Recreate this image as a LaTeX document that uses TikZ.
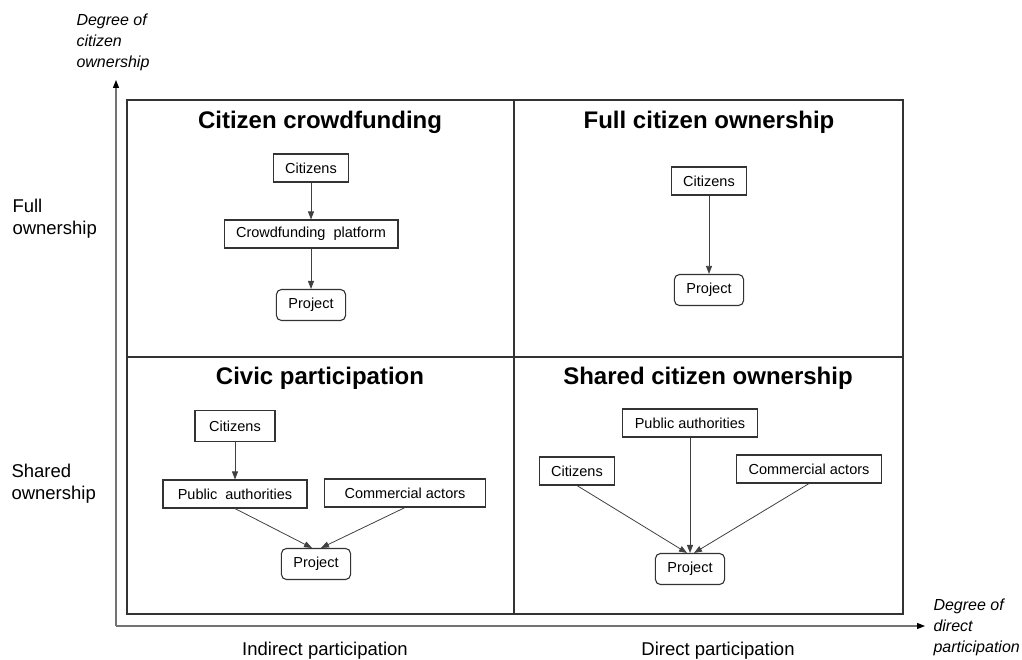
\documentclass[tikz,border=0pt]{standalone}
\usepackage{fontspec}
\setmainfont{Liberation Sans}
\usetikzlibrary{arrows.meta,positioning}

\begin{document}
\begin{tikzpicture}[x=1pt, y=-1pt,
    box/.style={draw=black!80, line width=1.1pt, fill=white, inner xsep=12pt,
        minimum height=28pt, font=\fontsize{14.5}{16}\selectfont},
    proj/.style={box, rounded corners=5pt, minimum height=31pt},
    title/.style={font=\fontsize{24}{28}\selectfont\bfseries},
    link/.style={draw=black!75, line width=0.8pt, -{Triangle[length=8pt,width=6pt]}},
    axis/.style={draw=black!55, line width=1.2pt, -{Triangle[length=8pt,width=6pt,fill=black,color=black]}},
    axlabel/.style={align=left, font=\fontsize{18.5}{22}\selectfont},
    axtitle/.style={align=left, font=\fontsize{16}{21}\selectfont\itshape}]
    \useasboundingbox (0,0) rectangle (1022,660);

    % axes
    \coordinate (O) at (116,626);
    \coordinate (ytop) at (116,80);
    \coordinate (xend) at (925,626);
    \draw[axis] (O) -- (ytop);
    \draw[axis] (O) -- (xend);
    \node[axtitle, anchor=west] (ytitle) at (73,42) {Degree of\\citizen\\ownership};
    \node[axtitle, anchor=west] (xtitle) at (930,627) {Degree of\\direct\\participation};
    \node[axlabel, anchor=west] (full) at (9,219) {Full\\ownership};
    \node[axlabel, anchor=west] (shared) at (8,484) {Shared\\ownership};
    \node[axlabel] (indirect) at (325,651) {Indirect participation};
    \node[axlabel] (direct) at (718,651) {Direct participation};

    % quadrants
    \draw[draw=black!80, line width=1.5pt] (127,100) rectangle (903,614);
    \draw[draw=black!80, line width=1.5pt] (514,100) -- (514,614);
    \draw[draw=black!80, line width=1.5pt] (127,357) -- (903,357);

    % citizen crowdfunding
    \node[title] (t1) at (320,122) {Citizen crowdfunding};
    \node[box] (c1) at (311,168) {Citizens};
    \node[box] (cp1) at (311,234) {Crowdfunding\ \ platform};
    \node[proj] (p1) at (311,305) {Project};
    \draw[link] (c1) -- (cp1);
    \draw[link] (cp1) -- (p1);

    % full citizen ownership
    \node[title] (t2) at (709,122) {Full citizen ownership};
    \node[box] (c2) at (709,181) {Citizens};
    \node[proj] (p2) at (709,290) {Project};
    \draw[link] (c2) -- (p2);

    % civic participation
    \node[title] (t3) at (320,378) {Civic participation};
    \node[box, minimum height=31pt, minimum width=80pt] (c3) at (235,426) {Citizens};
    \node[box, minimum width=144pt] (pa3) at (235,494) {Public\ \ authorities};
    \node[box, minimum width=161pt] (ca3) at (405,493) {Commercial actors};
    \node[proj] (p3) at (316,564) {Project};
    \draw[link] (c3) -- (pa3);
    \draw[link] (pa3.south) -- ([xshift=-4pt]p3.north);
    \draw[link] (ca3.south) -- ([xshift=5pt]p3.north);

    % shared citizen ownership
    \node[title] (t4) at (708,378) {Shared citizen ownership};
    \node[box] (pa4) at (690,423) {Public authorities};
    \node[box] (c4) at (577,471) {Citizens};
    \node[box] (ca4) at (809,469) {Commercial actors};
    \node[proj] (p4) at (690,569) {Project};
    \draw[link] (c4.south) -- ([xshift=-3pt]p4.north);
    \draw[link] (pa4.south) -- (p4.north);
    \draw[link] (ca4.south) -- ([xshift=4pt]p4.north);
\end{tikzpicture}
\end{document}
